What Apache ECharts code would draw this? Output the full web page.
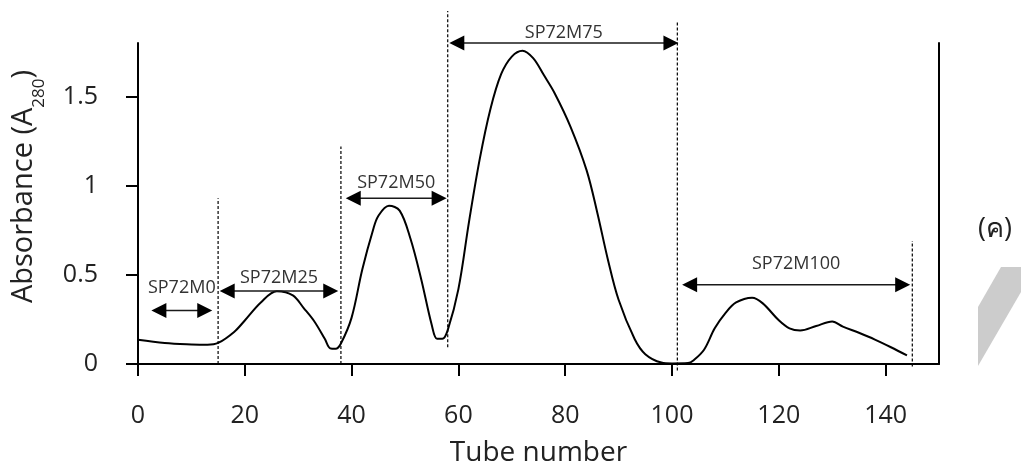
<!DOCTYPE html>
<html>
<head>
<meta charset="utf-8">
<script src="https://cdn.jsdelivr.net/npm/echarts@6/dist/echarts.min.js"></script>
<style>
  html, body { margin: 0; padding: 0; background: #fff; }
  #chart { width: 1021px; height: 467px; }
</style>
</head>
<body>
<div id="chart"></div>
<script>
// Elution profile: absorbance at 280 nm per collected tube
const tubes = [0, 5, 10, 13, 15, 18, 20, 23, 26, 29, 31, 33, 35, 36, 37, 38, 40, 42, 44, 45, 47, 49, 51, 53, 55, 56, 57, 58, 60, 62, 64, 66, 68, 70, 72, 74, 76, 78, 81, 84, 86, 88, 90, 93, 95, 98, 100, 103, 104, 106, 108, 110, 112, 115, 117, 120, 122, 124, 127, 130, 132, 135, 138, 141, 144];
const absorbance = [0.136, 0.118, 0.11, 0.108, 0.118, 0.18, 0.244, 0.345, 0.408, 0.385, 0.315, 0.24, 0.14, 0.088, 0.085, 0.115, 0.26, 0.53, 0.75, 0.83, 0.887, 0.86, 0.705, 0.48, 0.22, 0.141, 0.141, 0.19, 0.42, 0.8, 1.15, 1.43, 1.625, 1.724, 1.757, 1.715, 1.62, 1.52, 1.33, 1.087, 0.85, 0.585, 0.36, 0.14, 0.055, 0.008, 0.003, 0.005, 0.02, 0.08, 0.2, 0.285, 0.345, 0.372, 0.34, 0.245, 0.2, 0.188, 0.213, 0.238, 0.21, 0.175, 0.137, 0.094, 0.048];

// Axis ticks
const xTicks = [0, 20, 40, 60, 80, 100, 120, 140];
const yTicks = [0, 0.5, 1, 1.5];

// Fraction boundaries (tube number) and the vertical extent of each divider
const cuts = [15, 38, 58, 101, 145];
const cutLow = [0, 0, 0.094, -0.037, -0.014];
const cutHigh = [0.93, 1.22, 1.98, 1.92, 0.69];

// Pooled fractions: name, tube range, and the absorbance level of its bracket
const fracNames = ['SP72M0', 'SP72M25', 'SP72M50', 'SP72M75', 'SP72M100'];
const fracFrom = [2.5, 15.3, 38.9, 58.3, 101.9];
const fracTo = [13.9, 37.5, 57.8, 101.2, 144.6];
const fracLevel = [0.30, 0.41, 0.93, 1.80, 0.445];

// Label lift above each bracket, in pixels
const labelLift = [23, 13, 15, 10, 21];

const FONT = '"Open Sans", "Noto Sans", sans-serif';
const INK = '#222';
const HEAD_LEN = 15;
const HEAD_HALF = 7.5;

const chart = echarts.init(document.getElementById('chart'), null, { renderer: 'canvas' });

const dividerSeries = cuts.map((c, i) => ({
  type: 'line',
  data: [[c, cutLow[i]], [c, cutHigh[i]]],
  symbol: 'none',
  clip: false,
  silent: true,
  z: 1,
  lineStyle: { color: '#000', width: 1.2, type: [3, 2] }
}));

// Double-headed bracket with its fraction name above
function renderBracket(params, api) {
  const a = api.coord([api.value(0), api.value(2)]);
  const b = api.coord([api.value(1), api.value(2)]);
  const y = a[1];
  const i = params.dataIndex;
  return {
    type: 'group',
    children: [
      {
        type: 'line',
        shape: { x1: a[0] + HEAD_LEN - 1, y1: y, x2: b[0] - HEAD_LEN + 1, y2: y },
        style: { stroke: '#1a1a1a', lineWidth: 1.5 }
      },
      {
        type: 'polygon',
        shape: { points: [[a[0], y], [a[0] + HEAD_LEN, y - HEAD_HALF], [a[0] + HEAD_LEN, y + HEAD_HALF]] },
        style: { fill: '#000' }
      },
      {
        type: 'polygon',
        shape: { points: [[b[0], y], [b[0] - HEAD_LEN, y - HEAD_HALF], [b[0] - HEAD_LEN, y + HEAD_HALF]] },
        style: { fill: '#000' }
      },
      {
        type: 'text',
        x: (a[0] + b[0]) / 2,
        y: y - labelLift[i],
        style: {
          text: fracNames[i],
          fontSize: 18,
          fontFamily: FONT,
          fill: '#333',
          align: 'center',
          verticalAlign: 'middle'
        }
      }
    ]
  };
}

const option = {
  animation: false,
  backgroundColor: '#fff',
  grid: { left: 138, right: 82, top: 43, bottom: 103, outerBoundsMode: 'none', containLabel: false },
  xAxis: {
    type: 'value',
    min: 0,
    max: 150,
    interval: 10,
    splitLine: { show: false },
    axisLine: { show: true, onZero: false, lineStyle: { color: '#000', width: 2 } },
    axisTick: { show: true, customValues: xTicks, length: 12, lineStyle: { color: '#000', width: 2 } },
    axisLabel: { customValues: xTicks, fontSize: 25, margin: 39, color: INK, fontFamily: FONT },
    name: 'Tube number',
    nameLocation: 'middle',
    nameGap: 75,
    nameTextStyle: { fontSize: 28, color: INK, fontFamily: FONT }
  },
  yAxis: [
    {
      type: 'value',
      min: 0,
      max: 1.8,
      interval: 0.5,
      splitLine: { show: false },
      axisLine: { show: true, lineStyle: { color: '#000', width: 2 } },
      axisTick: { show: true, customValues: yTicks, length: 12, lineStyle: { color: '#000', width: 2 } },
      axisLabel: { customValues: yTicks, fontSize: 25, margin: 40, color: INK, fontFamily: FONT },
      name: 'Absorbance (A{sub|280})',
      nameLocation: 'middle',
      nameGap: 90,
      nameTextStyle: {
        fontSize: 29,
        color: INK,
        fontFamily: FONT,
        padding: [0, 0, 0, 34],
        rich: {
          sub: { fontSize: 17, color: INK, fontFamily: FONT, verticalAlign: 'bottom', lineHeight: 48 }
        }
      }
    },
    {
      type: 'value',
      position: 'right',
      min: 0,
      max: 1.8,
      splitLine: { show: false },
      axisLine: { show: true, lineStyle: { color: '#000', width: 2 } },
      axisTick: { show: false },
      axisLabel: { show: false }
    }
  ],
  series: [
    {
      type: 'line',
      data: tubes.map((t, i) => [t, absorbance[i]]),
      smooth: 0.35,
      symbol: 'none',
      z: 3,
      lineStyle: { color: '#000', width: 2 }
    },
    ...dividerSeries,
    {
      type: 'custom',
      silent: true,
      clip: false,
      z: 4,
      renderItem: renderBracket,
      data: fracNames.map((n, i) => [fracFrom[i], fracTo[i], fracLevel[i]])
    }
  ],
  graphic: [
    {
      type: 'text',
      left: 978,
      top: 216,
      style: { text: '(ค)', fontSize: 27, fill: INK, fontFamily: FONT }
    },
    {
      type: 'polygon',
      shape: { points: [[978, 307], [1001, 267], [1021, 267], [1021, 292], [978, 366]] },
      style: { fill: '#cccccc' }
    }
  ]
};

chart.setOption(option);
</script>
</body>
</html>
